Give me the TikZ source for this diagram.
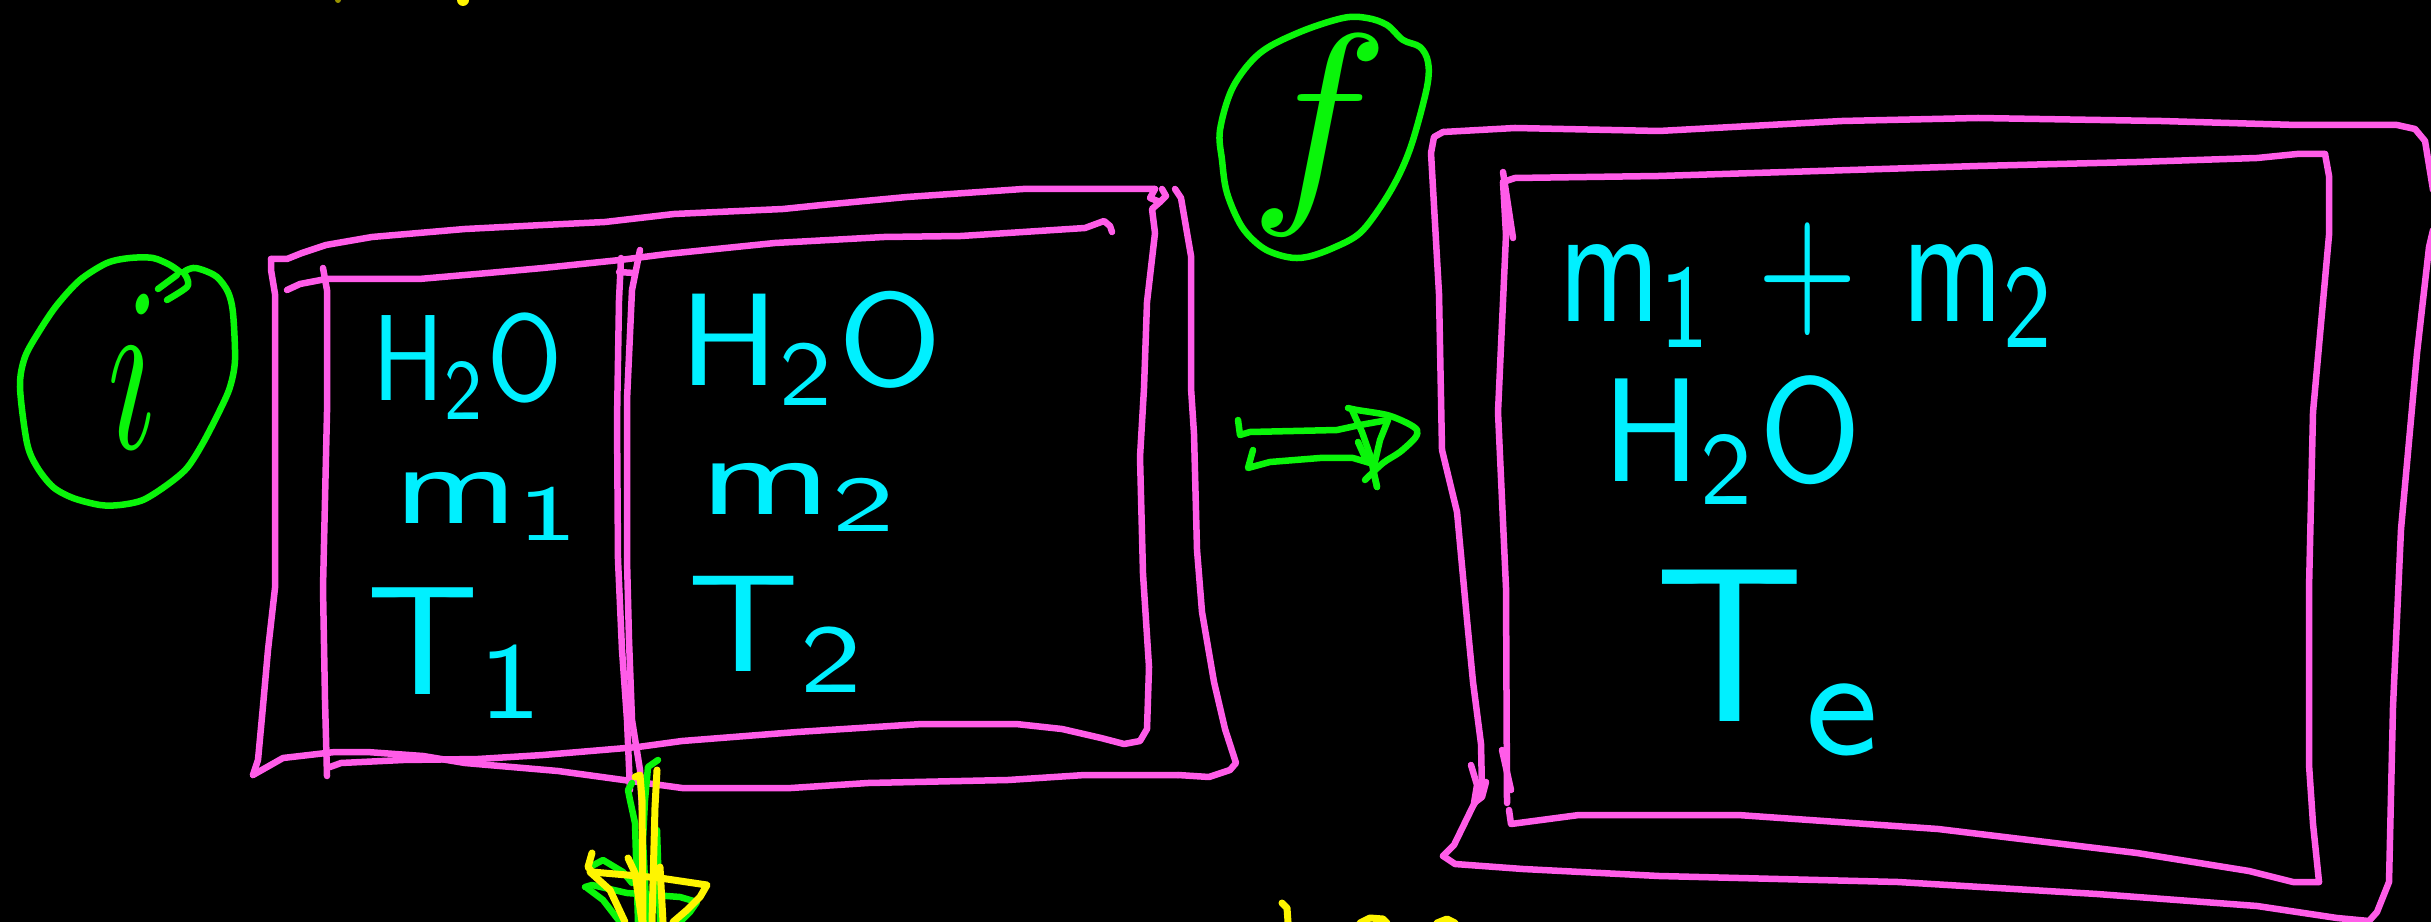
\documentclass[tikz,border=0pt]{standalone}
\usepackage{graphicx}
\newlength\pxu
\setlength\pxu{0.01cm}
\newcommand\handtext[3]{\resizebox*{#1\pxu}{#2\pxu}{#3}}
\definecolor{pinkc}{RGB}{255,92,232}
\definecolor{greenc}{RGB}{10,245,10}
\definecolor{cyanc}{RGB}{0,240,255}
\definecolor{yellowc}{RGB}{255,245,0}
\tikzset{
  pinkline/.style={draw=pinkc, line width=0.065cm, line cap=round, line join=round},
  greenline/.style={draw=greenc, line width=0.065cm, line cap=round, line join=round},
  yellowline/.style={draw=yellowc, line width=0.07cm, line cap=round, line join=round},
  cyantext/.style={text=cyanc, inner sep=0pt, font=\sffamily},
  greentext/.style={text=greenc, inner sep=0pt},
}
\begin{document}
\begin{tikzpicture}[x=0.01cm,y=-0.01cm]
\fill[black] (0,0) rectangle (2431,922);
\useasboundingbox (0,0) rectangle (2431,922);

% ---------- left box (initial state) ----------
% outer
\draw[pinkline] plot coordinates {(271,259) (287,259) (302,253) (326,245) (372,237) (465,229) (543,225) (605,222) (674,214) (783,209) (822,205) (907,197) (1023,189) (1155,189)};
\draw[pinkline] plot coordinates {(1155,189) (1150,198) (1160,202) (1166,196) (1162,189)};
\draw[pinkline] plot coordinates {(1175,189) (1181,198) (1191,256) (1191,388) (1194,434) (1197,550) (1202,612) (1214,682) (1225,729) (1236,763) (1230,770) (1209,777) (1178,775)};
\draw[pinkline] plot coordinates {(1178,775) (1085,775) (1008,780) (868,783) (791,788) (682,788) (558,771) (465,763) (423,756) (367,752) (335,752) (283,758) (253,775)};
\draw[pinkline] plot coordinates {(253,775) (258,760) (263,706) (268,650) (275,588) (275,412) (275,294) (271,270) (271,259)};
% inner
\draw[pinkline] plot coordinates {(323,268) (327,290) (327,412) (323,588) (325,700) (327,776)};
\draw[pinkline] plot coordinates {(330,767) (341,763) (403,760) (478,759) (543,755) (638,747) (682,741) (797,732) (922,724) (1016,724) (1062,729) (1101,738) (1124,744) (1140,741) (1147,729) (1149,667)};
\draw[pinkline] plot coordinates {(1149,667) (1143,574) (1140,457) (1144,388) (1147,302) (1155,233) (1152,209) (1160,202)};
\draw[pinkline] plot coordinates {(287,290) (300,284) (326,279) (380,279) (419,279) (488,273) (543,268) (620,260) (667,254) (775,243) (884,237) (961,236) (1085,228) (1104,221) (1110,226) (1112,232)};
% divider
\draw[pinkline] plot coordinates {(640,250) (632,290) (627,400) (627,560) (629,640) (632,720) (640,770) (642,810)};
\draw[pinkline] plot coordinates {(621,258) (619,300) (617,420) (618,560) (622,650) (627,720) (630,790)};
\draw[pinkline] plot coordinates {(619,272) (634,273)};

% ---------- initial circle i ----------
\draw[greenline] plot[smooth, tension=0.5] coordinates {(167,300) (187,287) (187,278) (184,272) (193,268) (203,270) (217,277) (228,292) (233,313) (235,360) (230,387) (220,410) (203,443) (187,468) (167,485) (143,500) (120,505) (100,505) (73,498) (53,487) (37,467) (27,443) (20,387) (25,357) (40,330) (57,305) (80,280) (107,263) (130,258) (153,258) (170,265) (180,272)};
\draw[greenline] (158,289) -- (177,275);
\node[greentext] (labi) at (133,371) {\handtext{51}{154}{$i$}};

% ---------- texts, left box ----------
\node[cyantext] (h2oA) at (467,366) {\handtext{190}{106}{H\textsubscript{2}O}};
\node[cyantext] (mA) at (489,506) {\handtext{192}{68}{m\textsubscript{1}}};
\node[cyantext] (tA) at (458,653) {\handtext{183}{130}{T\textsubscript{1}}};
\node[cyantext] (h2oB) at (811,348) {\handtext{263}{114}{H\textsubscript{2}O}};
\node[cyantext] (mB) at (801,497) {\handtext{203}{68}{m\textsubscript{2}}};
\node[cyantext] (tB) at (779,634) {\handtext{182}{116}{T\textsubscript{2}}};

% ---------- valve scribble (yellow/green) ----------
\draw[greenline] plot coordinates {(658,760) (648,767) (645,800) (643,840) (647,922)};
\draw[greenline] plot coordinates {(632,783) (628,790) (630,800) (635,823) (638,922)};
\draw[greenline] plot coordinates {(657,830) (660,922)};
\draw[greenline] plot coordinates {(585,887) (592,885) (627,893) (680,897) (697,902) (690,912) (680,922)};
\draw[greenline] plot coordinates {(590,867) (603,860) (623,872) (632,883)};
\draw[greenline] plot coordinates {(587,888) (603,900) (620,922)};
\draw[yellowline] plot coordinates {(635,777) (640,775) (642,800) (643,922)};
\draw[yellowline] plot coordinates {(657,770) (655,807) (652,922)};
\draw[yellowline] plot coordinates {(592,853) (588,867) (592,872) (627,875) (660,878) (707,885) (700,897) (687,910) (673,922)};
\draw[yellowline] plot coordinates {(590,872) (610,890) (625,922)};
\draw[yellowline] plot coordinates {(628,858) (635,873) (642,922)};
\draw[yellowline] plot coordinates {(660,867) (663,922)};

% ---------- arrow ==> ----------
\draw[greenline] plot coordinates {(1238,420) (1240,435) (1250,432) (1337,430) (1360,425) (1388,420)};
\draw[greenline] plot coordinates {(1253,450) (1248,468) (1270,462) (1320,458) (1353,458) (1370,463)};
\draw[greenline] plot[smooth, tension=0.5] coordinates {(1348,408) (1357,410) (1387,415) (1407,423) (1417,430) (1415,438) (1400,452) (1383,463) (1365,480)};
\draw[greenline] plot coordinates {(1352,410) (1362,432) (1370,455) (1377,487)};
\draw[greenline] plot coordinates {(1388,420) (1380,440) (1373,470) (1377,487)};
\draw[greenline] plot coordinates {(1358,442) (1367,462)};

% ---------- final circle f ----------
\draw[greenline] plot[smooth cycle, tension=0.55] coordinates {(1220,130) (1233,87) (1260,53) (1300,32) (1343,18) (1367,18) (1387,25) (1403,40) (1420,47) (1428,62) (1427,87) (1413,140) (1400,173) (1383,203) (1360,233) (1333,248) (1307,257) (1287,257) (1263,248) (1242,227) (1227,193) (1222,160)};
\node[greentext] (labf) at (1320,135) {\handtext{140}{200}{$f$}};

% ---------- right box (final state) ----------
\draw[pinkline] plot coordinates {(1443,132) (1515,128) (1659,131) (1842,121) (1978,118) (2161,121) (2297,125) (2397,125) (2415,129) (2425,141) (2433,190)};
\draw[pinkline] plot coordinates {(2433,230) (2429,247) (2417,353) (2401,529) (2393,706) (2389,882) (2377,912) (2369,921)};
\draw[pinkline] plot coordinates {(2369,921) (2337,918) (2257,906) (2097,894) (1898,882) (1659,876) (1523,869) (1455,864) (1443,856)};
\draw[pinkline] plot coordinates {(1443,856) (1454,845) (1473,806) (1482,791) (1481,744) (1473,682) (1467,620) (1457,512) (1442,450) (1439,294) (1431,153) (1434,137) (1443,132)};
\draw[pinkline] plot coordinates {(1471,765) (1477,785) (1474,803) (1482,797) (1486,782)};
% inner
\draw[pinkline] plot coordinates {(1503,182) (1515,178) (1659,176) (1978,166) (2137,162) (2257,158) (2297,154) (2325,154)};
\draw[pinkline] plot coordinates {(2325,154) (2329,176) (2329,235) (2313,412) (2309,588) (2309,765) (2313,824) (2319,882)};
\draw[pinkline] plot coordinates {(2319,882) (2293,882) (2249,871) (2137,853) (1938,829) (1738,815) (1579,815) (1511,824) (1509,810)};
\draw[pinkline] plot coordinates {(1507,803) (1506,588) (1498,412) (1506,235) (1503,182)};
\draw[pinkline] plot coordinates {(1503,172) (1513,238)};
\draw[pinkline] plot coordinates {(1502,750) (1511,790)};

\node[cyantext] (mC) at (1808,285) {\handtext{500}{124}{m\textsubscript{1} + m\textsubscript{2}}};
\node[cyantext] (h2oC) at (1732,440) {\handtext{259}{128}{H\textsubscript{2}O}};
\node[cyantext] (tC) at (1772,663) {\handtext{235}{186}{T\textsubscript{e}}};

% ---------- cut-off yellow marks at the edges ----------
\fill[yellowc] (463,0) circle (6);
\fill[yellowc!60!black] (338,0) circle (3);
\draw[yellowline] plot coordinates {(1282,903) (1287,908) (1288,922)};
\draw[yellowline] plot coordinates {(1360,923) (1370,918) (1383,919) (1387,923)};
\draw[yellowline] plot coordinates {(1437,923) (1447,919) (1455,923)};
\end{tikzpicture}
\end{document}
